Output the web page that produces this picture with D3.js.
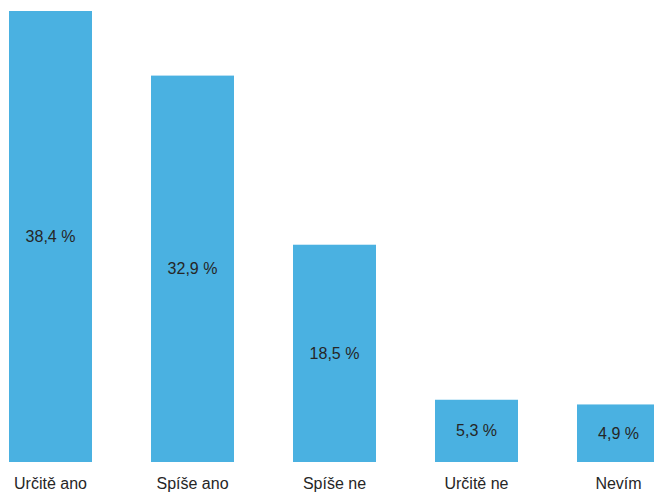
<!DOCTYPE html>
<html>
<head>
<meta charset="utf-8">
<script src="https://cdn.jsdelivr.net/npm/d3@7"></script>
<style>
  body { margin: 0; background: #fff; }
  svg { display: block; }
</style>
</head>
<body>
<script>
const categories = ["Určitě ano", "Spíše ano", "Spíše ne", "Určitě ne", "Nevím"];
const values = [38.4, 32.9, 18.5, 5.3, 4.9];
const valueLabels = ["38,4 %", "32,9 %", "18,5 %", "5,3 %", "4,9 %"];

const width = 654, height = 493;
const baseline = 462;

const svg = d3.select("body").append("svg")
    .attr("width", width)
    .attr("height", height);

// band: step 142, bar width 83
const xScale = d3.scaleBand()
    .domain(categories)
    .range([-20.5, -20.5 + 142 * 5])
    .paddingInner(59 / 142)
    .paddingOuter(29.5 / 142);

const yScale = d3.scaleLinear()
    .domain([0, 38.4])
    .range([baseline, 11]);

const data = categories.map((c, i) => ({ cat: c, value: values[i], label: valueLabels[i] }));

svg.selectAll("rect.bar")
    .data(data)
    .enter()
    .append("rect")
    .attr("class", "bar")
    .attr("x", d => xScale(d.cat))
    .attr("y", d => yScale(d.value))
    .attr("width", xScale.bandwidth())
    .attr("height", d => baseline - yScale(d.value))
    .attr("fill", "#4ab1e1");

// value labels in middle of each bar
svg.selectAll("text.val")
    .data(data)
    .enter()
    .append("text")
    .attr("class", "val")
    .attr("x", d => xScale(d.cat) + xScale.bandwidth() / 2)
    .attr("y", d => (yScale(d.value) + baseline) / 2)
    .attr("dy", "0.35em")
    .attr("text-anchor", "middle")
    .attr("font-family", "Liberation Sans, Arial, sans-serif")
    .attr("font-size", 16)
    .attr("fill", "#262626")
    .text(d => d.label);

// category axis (no line, no ticks)
const xAxis = d3.axisBottom(xScale).tickSize(0).tickPadding(0);
const gx = svg.append("g")
    .attr("transform", `translate(0, ${baseline})`)
    .call(xAxis);
gx.select(".domain").remove();
gx.selectAll("text")
    .attr("y", 27)
    .attr("dy", 0)
    .attr("font-family", "Liberation Sans, Arial, sans-serif")
    .attr("font-size", 16)
    .attr("fill", "#262626");
</script>
</body>
</html>
